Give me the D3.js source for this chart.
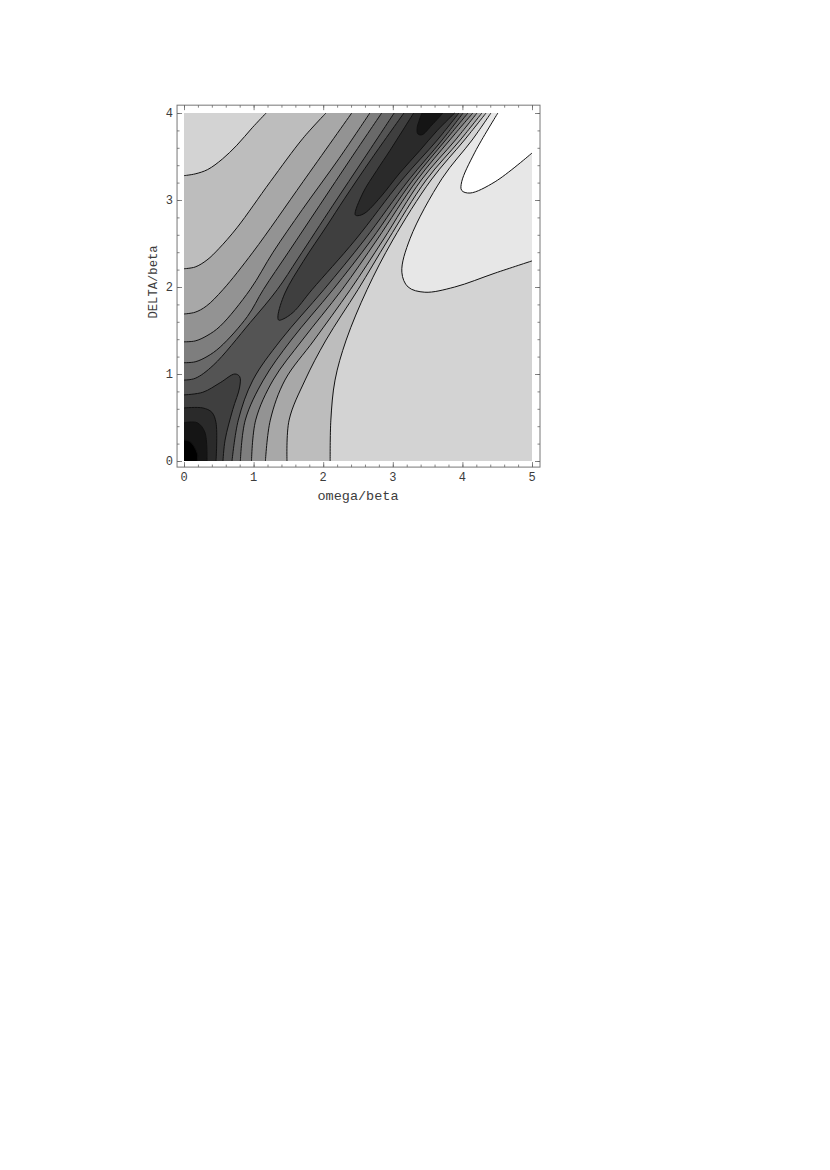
<!DOCTYPE html>
<html>
<head>
<meta charset="utf-8">
<script src="https://cdn.jsdelivr.net/npm/d3@7/dist/d3.min.js"></script>
<style>
html, body { margin: 0; padding: 0; background: #fff; }
text { font-family: "Liberation Mono", monospace; fill: #3a3a3a; opacity: 0.99; }
</style>
</head>
<body>
<div class="contourPlot"></div>
<script>
// contour lines, [omega/beta, DELTA/beta]
var xTicks = [0, 1, 2, 3, 4, 5];
var yTicks = [0, 1, 2, 3, 4];
var xLabel = "omega/beta";
var yLabel = "DELTA/beta";

var lineLight = [[4.41,4],[4.14,3.69],[3.71,3.25],[3.25,2.56],[3.13,2.17],[3.22,2.0],[3.46,1.94],[3.89,2.0],[4.47,2.16],[5,2.30]];
var lineWhite = [[4.51,4],[4.18,3.55],[3.99,3.21],[3.99,3.11],[4.11,3.08],[4.47,3.21],[5,3.54]];

var level1Left = [[0,3.28],[.16,3.30],[.34,3.35],[.55,3.47],[.76,3.63],[.98,3.83],[1.18,4]];
var level2Left = [[0,2.21],[.16,2.23],[.33,2.31],[.50,2.44],[.76,2.68],[1.24,3.21],[1.71,3.71],[2.04,4]];
var level3Left = [[0,1.69],[.16,1.71],[.32,1.78],[.56,1.97],[.99,2.40],[1.71,3.21],[2.41,4]];
var level4Left = [[0,1.37],[.16,1.38],[.33,1.44],[.52,1.55],[.95,1.97],[1.28,2.40],[1.70,2.89],[2.23,3.48],[2.67,4]];
var level5Left = [[0,1.13],[.16,1.14],[.33,1.20],[.52,1.31],[.91,1.66],[1.14,1.97],[1.50,2.40],[1.95,2.94],[2.40,3.48],[2.84,4]];
var level6Left = [[0,.93],[.16,.95],[.42,1.10],[.95,1.59],[1.34,1.97],[1.64,2.33],[2.14,2.94],[2.59,3.48],[3.02,4]];

var level1Right = [[4.34,4],[4.03,3.69],[3.55,3.23],[3.00,2.54],[2.63,1.97],[2.33,1.39],[2.17,.93],[2.11,.47],[2.10,0]];
var level2Right = [[4.28,4],[3.97,3.69],[3.48,3.23],[2.93,2.54],[2.50,1.97],[2.04,1.39],[1.74,.93],[1.51,.47],[1.48,0]];
var level3Right = [[4.21,4],[3.90,3.69],[3.41,3.23],[2.86,2.54],[2.39,1.97],[1.87,1.39],[1.45,.93],[1.24,.47],[1.17,0]];
var level4Right = [[4.15,4],[3.82,3.69],[3.35,3.23],[2.77,2.54],[2.27,1.97],[1.70,1.39],[1.28,.93],[1.03,.47],[.97,0]];
var level5Right = [[4.08,4],[3.76,3.69],[3.29,3.23],[2.69,2.54],[2.14,1.97],[1.54,1.39],[1.14,.93],[.88,.47],[.81,0]];
var level6Right = [[4.01,4],[3.71,3.69],[3.23,3.23],[2.59,2.54],[2.01,1.97],[1.39,1.39],[.99,.93],[.78,.47],[.69,0]];

var level7Corner = [[0,.76],[.27,.79],[.52,.90],[.73,1.0],[.80,.97],[.80,.85],[.70,.59],[.59,.24],[.56,0]];
var level8Corner = [[0,.61],[.27,.61],[.40,.56],[.46,.44],[.46,0]];
var level9Corner = [[0,.44],[.19,.44],[.30,.33],[.33,0]];
var level10Corner = [[0,.24],[.09,.22],[.19,.09],[.19,0]];

var level7Ridge = [[3.16,4],[2.70,3.48],[2.31,3.02],[2.05,2.70],[1.71,2.29],[1.45,1.93],[1.35,1.67],[1.36,1.62],[1.42,1.63],[1.57,1.71],[1.84,1.97],[2.46,2.54],[3.13,3.23],[3.64,3.69],[3.95,4]];
var level8Ridge = [[3.30,4],[2.96,3.57],[2.77,3.34],[2.57,3.08],[2.46,2.83],[2.50,2.82],[2.60,2.85],[2.82,3.03],[3.10,3.31],[3.39,3.57],[3.64,3.80],[3.89,4]];
var level9Ridge = [[3.42,4],[3.35,3.83],[3.36,3.76],[3.42,3.75],[3.56,3.86],[3.72,4]];

var margin = {left: 184, top: 113},
    plotWidth = 348,
    plotHeight = 348;

var x = d3.scaleLinear().domain([0, 5]).range([margin.left, margin.left + plotWidth]);
var y = d3.scaleLinear().domain([0, 4]).range([margin.top + plotHeight, margin.top]);

var frameLeft = x(-0.1), frameRight = x(5.115), frameTop = y(4.09), frameBottom = y(-0.07);

var svg = d3.select(".contourPlot").append("svg")
    .attr("width", 830)
    .attr("height", 1170)
    .style("display", "block");

var line = d3.line()
    .x(function(d){ return x(d[0]); })
    .y(function(d){ return y(d[1]); })
    .curve(d3.curveCatmullRom.alpha(0.5));

function poly(p){ return "L" + x(p[0]) + "," + y(p[1]); }

// background band
svg.append("rect")
    .attr("x", x(0)).attr("y", y(4))
    .attr("width", x(5) - x(0)).attr("height", y(0) - y(4))
    .attr("fill", "#d3d3d3");

// painted from light to dark, each band on top of the last
function corner(path, color){
    svg.append("path")
        .attr("d", line(path) + poly([0, 0]) + "Z")
        .attr("fill", color);
    stroke(path);
}
function band(left, right, color){
    svg.append("path")
        .attr("d", line(left) + "L" + line(right).slice(1) + poly([0, 0]) + "Z")
        .attr("fill", color);
    stroke(left);
    stroke(right);
}
function ridge(path, color){
    svg.append("path")
        .attr("d", line(path) + "Z")
        .attr("fill", color);
    stroke(path);
}
function stroke(path){
    svg.append("path")
        .attr("d", line(path))
        .attr("fill", "none")
        .attr("stroke", "#111")
        .attr("stroke-width", 1);
}

svg.append("path")
    .attr("d", line(lineLight) + poly([5, 4]) + "Z")
    .attr("fill", "#e7e7e7");
stroke(lineLight);
svg.append("path")
    .attr("d", line(lineWhite) + poly([5, 4]) + "Z")
    .attr("fill", "#fff");
stroke(lineWhite);

band(level1Left, level1Right, "#bdbdbd");
band(level2Left, level2Right, "#a8a8a8");
band(level3Left, level3Right, "#939393");
band(level4Left, level4Right, "#7e7e7e");
band(level5Left, level5Right, "#696969");
band(level6Left, level6Right, "#545454");

corner(level7Corner, "#3f3f3f");
ridge(level7Ridge, "#3f3f3f");
corner(level8Corner, "#2a2a2a");
ridge(level8Ridge, "#2a2a2a");
corner(level9Corner, "#151515");
ridge(level9Ridge, "#151515");
corner(level10Corner, "#000");

// frame
svg.append("rect")
    .attr("x", frameLeft).attr("y", frameTop)
    .attr("width", frameRight - frameLeft).attr("height", frameBottom - frameTop)
    .attr("fill", "none")
    .attr("stroke", "#777")
    .attr("stroke-width", 1);

var xMinor = d3.range(0, 5.01, 0.2), yMinor = d3.range(0, 4.01, 0.2);

function ticks(axis, values, size, tx, ty){
    var g = svg.append("g")
        .attr("transform", "translate(" + tx + "," + ty + ")")
        .call(axis.tickValues(values).tickSize(size).tickFormat(""));
    g.select(".domain").remove();
    g.selectAll("line").attr("stroke", "#666").attr("stroke-width", 0.8);
}

ticks(d3.axisBottom(x), xMinor, -2.5, 0, frameBottom);
ticks(d3.axisBottom(x), xTicks, -5, 0, frameBottom);
ticks(d3.axisTop(x), xMinor, -2.5, 0, frameTop);
ticks(d3.axisTop(x), xTicks, -5, 0, frameTop);
ticks(d3.axisLeft(y), yMinor, -2.5, frameLeft, 0);
ticks(d3.axisLeft(y), yTicks, -5, frameLeft, 0);
ticks(d3.axisRight(y), yMinor, -2.5, frameRight, 0);
ticks(d3.axisRight(y), yTicks, -5, frameRight, 0);

// tick labels
svg.selectAll(".xLab").data(xTicks).enter().append("text")
    .attr("class", "xLab")
    .attr("x", function(d){ return x(d); })
    .attr("y", 481)
    .attr("text-anchor", "middle")
    .style("font-size", "12px")
    .text(function(d){ return d; });

svg.selectAll(".yLab").data(yTicks).enter().append("text")
    .attr("class", "yLab")
    .attr("x", 173)
    .attr("y", function(d){ return y(d) + 4; })
    .attr("text-anchor", "end")
    .style("font-size", "12px")
    .text(function(d){ return d; });

svg.append("text")
    .attr("x", 358)
    .attr("y", 500)
    .attr("text-anchor", "middle")
    .style("font-size", "13.5px")
    .text(xLabel);

svg.append("text")
    .attr("transform", "translate(157,282) rotate(-90)")
    .attr("text-anchor", "middle")
    .style("font-size", "12.2px")
    .text(yLabel);
</script>
</body>
</html>
